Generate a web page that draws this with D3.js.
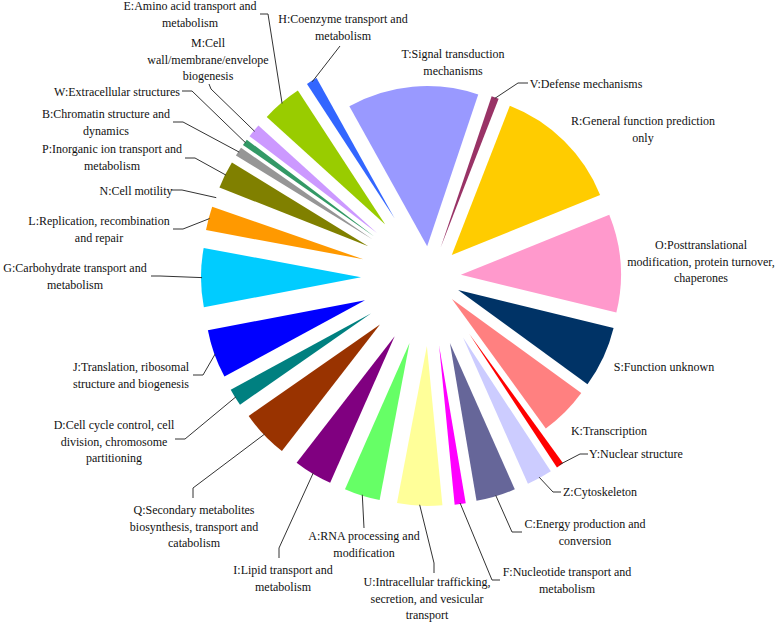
<!DOCTYPE html>
<html>
<head>
<meta charset="utf-8">
<script src="https://cdn.jsdelivr.net/npm/d3@7"></script>
<style>
  html, body { margin: 0; padding: 0; background: #ffffff; }
  svg { display: block; }
</style>
</head>
<body>
<svg id="chart" width="778" height="626"></svg>
<script>
// ---- data (clockwise, starting with T) ----
const categories = ["T","V","R","O","S","K","Y","Z","C","F","U","A","I","Q","D","J","G","L","N","P","B","W","M","E","H"];
const names = [
  "T:Signal transduction|mechanisms",
  "V:Defense mechanisms",
  "R:General function prediction|only",
  "O:Posttranslational|modification, protein turnover,|chaperones",
  "S:Function unknown",
  "K:Transcription",
  "Y:Nuclear structure",
  "Z:Cytoskeleton",
  "C:Energy production and|conversion",
  "F:Nucleotide transport and|metabolism",
  "U:Intracellular trafficking,|secretion, and vesicular|transport",
  "A:RNA processing and|modification",
  "I:Lipid transport and|metabolism",
  "Q:Secondary metabolites|biosynthesis, transport and|catabolism",
  "D:Cell cycle control, cell|division, chromosome|partitioning",
  "J:Translation, ribosomal|structure and biogenesis",
  "G:Carbohydrate transport and|metabolism",
  "L:Replication, recombination|and repair",
  "N:Cell motility",
  "P:Inorganic ion transport and|metabolism",
  "B:Chromatin structure and|dynamics",
  "W:Extracellular structures",
  "M:Cell|wall/membrane/envelope|biogenesis",
  "E:Amino acid transport and|metabolism",
  "H:Coenzyme transport and|metabolism"
];
const values = [143, 8, 140, 107, 67, 54, 8, 28, 43, 12, 49, 39, 42, 52, 19, 53, 64, 26, 7, 30, 10, 7, 15, 44, 12];

// ---- styles ----
const colors = {
  T:"#9999FF", V:"#993366", R:"#FFCC00", O:"#FF99CC", S:"#003366", K:"#FF8080",
  Y:"#FF0000", Z:"#CCCCFF", C:"#666699", F:"#FF00FF", U:"#FFFF99", A:"#66FF66",
  I:"#800080", Q:"#993300", D:"#008080", J:"#0000FF", G:"#00CCFF", L:"#FF9900",
  N:"#FFFFFF", P:"#808000", B:"#969696", W:"#339966", M:"#CC99FF", E:"#99CC00", H:"#3366FF"
};
const nearSlices = new Set(["T","V","R","O","S","K"]);
const FONT = "'Liberation Serif', 'Times New Roman', 'DejaVu Serif', serif";

// label layout: x = text centre, y = first line centre, leader = points from slice to label
const labelLayout = {
  T:{x:453,y:54}, V:{x:586,y:84,leader:[[518,83],[528,83]]},
  R:{x:643,y:121}, O:{x:701,y:245}, S:{x:664,y:367}, K:{x:609,y:431},
  Y:{x:636,y:454,leader:[[580,454],[588,454]]},
  Z:{x:600,y:492,leader:[[553,492],[561,492]]},
  C:{x:585,y:524,leader:[[512,532],[522,532]]},
  F:{x:567,y:572,leader:[[492,580],[500,580]]},
  U:{x:427,y:582,leader:[[434,563],[434,573]]},
  A:{x:364,y:536,leader:[[364,528]]},
  I:{x:283,y:570,leader:[[279,548],[279,558]]},
  Q:{x:194,y:510,leader:[[193,488],[193,498]]},
  D:{x:114,y:425,leader:[[185,439],[175,439]]},
  J:{x:131,y:367,leader:[[203,375],[193,375]]},
  G:{x:75,y:268,leader:[[160,276],[151,276]]},
  L:{x:99,y:221,leader:[[183,229],[173,229]]},
  N:{x:136,y:191,leader:[[182,190],[171,190]]},
  P:{x:112,y:149,leader:[[195,158],[185,158]]},
  B:{x:106,y:114,leader:[[183,122],[173,122]]},
  W:{x:117,y:92,leader:[[192,91],[182,91]]},
  M:{x:208,y:43,leader:[[211,89],[209,84]]},
  E:{x:190,y:6,leader:[[268,14],[260,14]]},
  H:{x:343,y:19,leader:[[340,46]]}
};

const cx = 430, cy = 277, R = 160, dNear = 31, dFar = 69, lineH = 16.7;
const startA = -29.1 * Math.PI / 180;

const data = categories.map((c, i) => ({ cat: c, name: names[i], value: values[i] }));
const pie = d3.pie().sort(null).value(d => d.value).startAngle(startA).endAngle(startA + 2 * Math.PI);
const arc = d3.arc().innerRadius(0).outerRadius(R);
const arcs = pie(data);

const svg = d3.select("#chart");
const gSlices = svg.append("g");
const gLines = svg.append("g");
const gLabels = svg.append("g");

arcs.forEach(a => {
  const mid = (a.startAngle + a.endAngle) / 2;
  const d = nearSlices.has(a.data.cat) ? dNear : dFar;
  const tx = cx + d * Math.sin(mid), ty = cy - d * Math.cos(mid);
  gSlices.append("path")
    .attr("d", arc(a))
    .attr("transform", `translate(${tx},${ty})`)
    .attr("fill", colors[a.data.cat]);

  const lay = labelLayout[a.data.cat];
  if (lay.leader) {
    const ox = cx + (d + R - 1) * Math.sin(mid), oy = cy - (d + R - 1) * Math.cos(mid);
    const pts = [[ox, oy]].concat(lay.leader);
    gLines.append("path")
      .attr("d", d3.line()(pts))
      .attr("fill", "none")
      .attr("stroke", "#333")
      .attr("stroke-width", 1);
  }
  const lines = a.data.name.split("|");
  const t = gLabels.append("text")
    .attr("text-anchor", "middle")
    .attr("font-family", FONT)
    .attr("font-size", 12)
    .attr("fill", "#111");
  lines.forEach((ln, k) => {
    t.append("tspan").attr("x", lay.x).attr("y", lay.y + 4 + k * lineH).text(ln);
  });
});
</script>
</body>
</html>
